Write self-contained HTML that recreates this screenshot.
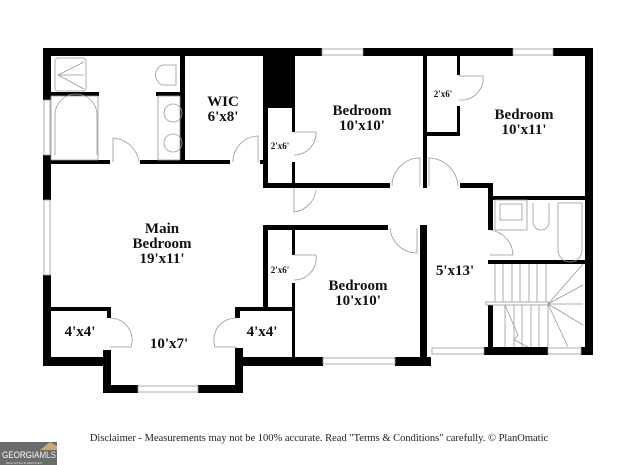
<!DOCTYPE html>
<html><head><meta charset="utf-8"><style>
html,body{margin:0;padding:0;background:#fff;width:640px;height:465px;overflow:hidden}
svg{display:block}
.t{font-family:"Liberation Serif",serif;font-weight:bold;fill:#111;text-anchor:middle}
</style></head><body>
<svg width="640" height="465" viewBox="0 0 640 465" xmlns="http://www.w3.org/2000/svg">
<g fill="#000">
<rect x="43" y="48" width="279" height="8"/>
<rect x="363" y="48" width="150" height="8"/>
<rect x="553" y="48" width="40" height="8"/>
<rect x="585" y="48" width="8" height="307"/>
<rect x="43" y="48" width="8" height="52"/>
<rect x="43" y="155" width="8" height="45"/>
<rect x="43" y="275" width="8" height="91"/>
<rect x="263" y="48" width="32" height="60"/>
<rect x="263" y="108" width="5" height="80"/>
<rect x="292" y="108" width="3" height="24"/>
<rect x="292" y="162" width="3" height="26"/>
<rect x="263" y="183" width="127" height="5"/>
<rect x="460" y="183" width="33" height="5"/>
<rect x="488" y="183" width="5" height="47"/>
<rect x="423" y="56" width="4" height="132"/>
<rect x="457" y="56" width="3" height="19"/>
<rect x="457" y="106" width="3" height="30"/>
<rect x="423" y="132" width="37" height="4"/>
<rect x="490" y="196" width="103" height="4"/>
<rect x="488" y="260" width="97" height="4"/>
<rect x="488" y="305" width="5" height="47"/>
<rect x="484" y="347" width="64" height="8"/>
<rect x="581" y="347" width="12" height="8"/>
<rect x="263" y="225" width="125" height="5"/>
<rect x="420" y="225" width="7" height="132"/>
<rect x="263" y="225" width="5" height="86"/>
<rect x="292" y="230" width="3" height="25"/>
<rect x="292" y="283" width="3" height="74"/>
<rect x="235" y="357" width="88" height="9"/>
<rect x="395" y="357" width="36" height="9"/>
<rect x="235" y="307" width="60" height="4"/>
<rect x="235" y="307" width="5" height="11"/>
<rect x="235" y="348" width="8" height="45"/>
<rect x="51" y="307" width="59" height="4"/>
<rect x="107" y="307" width="4" height="11"/>
<rect x="103" y="350" width="8" height="43"/>
<rect x="43" y="357" width="68" height="9"/>
<rect x="103" y="385" width="35" height="8"/>
<rect x="198" y="385" width="45" height="8"/>
<rect x="51" y="160" width="59" height="4"/>
<rect x="140" y="160" width="90" height="4"/>
<rect x="260" y="160" width="5" height="4"/>
<rect x="180" y="56" width="5" height="108"/>
<rect x="51" y="92" width="48" height="4"/>
<rect x="156" y="92" width="24" height="4"/>
</g>
<g fill="#fff" stroke="#999" stroke-width="0.8">
<rect x="322" y="49" width="41" height="6"/>
<rect x="513" y="49" width="40" height="6"/>
<rect x="44" y="100" width="6" height="55"/>
<rect x="44" y="200" width="6" height="75"/>
<rect x="138" y="386" width="60" height="6"/>
<rect x="323" y="358" width="72" height="6"/>
<rect x="432" y="348" width="52" height="6"/>
<rect x="548" y="348" width="33" height="6"/>
</g>
<g fill="none" stroke="#999" stroke-width="0.8">
<path d="M113 162 V138 A28 28 0 0 1 139 162"/>
<path d="M258 162 V136 A26 26 0 0 0 233 162"/>
<path d="M294 132 H316 A22 22 0 0 1 294 155"/>
<path d="M294 188 V212 A25 25 0 0 0 316 190"/>
<path d="M392 186 A28 28 0 0 1 420 158 V186"/>
<path d="M429 186 V158 A30 30 0 0 1 458 186"/>
<path d="M459 76 H483 A22 22 0 0 1 459 100"/>
<path d="M490 230 A26 26 0 0 1 513 255 H490"/>
<path d="M390 228 A27 27 0 0 0 417 253 V228"/>
<path d="M294 255 H316 A22 22 0 0 1 294 280"/>
<path d="M110 318 A22 22 0 0 1 131 347 H110"/>
<path d="M237 318 A22 22 0 0 0 215 347 H237"/>
<rect x="55" y="58" width="31" height="33" rx="3"/>
<path d="M58 75 L84 62 M58 75 L84 89 M58 75 H84"/>
<path d="M55 155 V115 A21 21 0 0 1 97 115 V155"/>
<rect x="51" y="96" width="47" height="64"/>
<path d="M162 65 A11 11 0 0 0 162 85 L176 85 V65 Z"/>
<rect x="158" y="96" width="22" height="64"/>
<circle cx="173" cy="113" r="9"/><circle cx="173" cy="143" r="9"/>
<rect x="495" y="200" width="32" height="30"/>
<rect x="500" y="204" width="22" height="16"/>
<path d="M533 203 V222 A8 8 0 0 0 549 222 V203"/>
<path d="M558 203 V250 A12 12 0 0 0 582 250 V203 Z"/>
<path d="M495 264 V302 M503 264 V302 M512 264 V302 M520 264 V302 M529 264 V302 M537 264 V302 M546 264 V302"/>
<rect x="486" y="302" width="62" height="3"/>
<path d="M505 305 V347 M514 305 V347 M522 305 V347 M531 305 V347 M539 305 V347"/>
<path d="M548 304 L583 264 M548 304 L583 285 M548 304 H583 M548 304 L583 325 M548 304 L568 347 M548 304 V347"/>
<path d="M505 305 L518 335 L514 340 L528 347"/>
</g>
<g class="t">
<text x="223" y="106" font-size="15">WIC</text>
<text x="223" y="121" font-size="15">6'x8'</text>
<text x="362" y="115" font-size="15">Bedroom</text>
<text x="362" y="130" font-size="15">10'x10'</text>
<text x="524" y="119" font-size="15">Bedroom</text>
<text x="524" y="134" font-size="15">10'x11'</text>
<text x="443" y="97" font-size="9">2'x6'</text>
<text x="280" y="149" font-size="9">2'x6'</text>
<text x="280" y="273" font-size="9">2'x6'</text>
<text x="162" y="233" font-size="15">Main</text>
<text x="162" y="248" font-size="15">Bedroom</text>
<text x="162" y="263" font-size="15">19'x11'</text>
<text x="358" y="290" font-size="15">Bedroom</text>
<text x="358" y="305" font-size="15">10'x10'</text>
<text x="455" y="275" font-size="15">5'x13'</text>
<text x="80" y="336" font-size="15">4'x4'</text>
<text x="262" y="336" font-size="15">4'x4'</text>
<text x="169" y="348" font-size="15">10'x7'</text>
</g>
<text x="319" y="441" font-family="Liberation Serif,serif" font-size="10.5" fill="#222" text-anchor="middle">Disclaimer - Measurements may not be 100% accurate. Read "Terms &amp; Conditions" carefully. © PlanOmatic</text>
<rect x="0" y="442" width="57" height="23" fill="#6b6b6b"/>
<path d="M40 450 L50 442 L57 446 V450 Z" fill="#c9a878"/>
<text x="2" y="458" font-family="Liberation Sans,sans-serif" font-size="9" textLength="54" lengthAdjust="spacingAndGlyphs" fill="#fff">GEORGIA<tspan fill="#eee">MLS</tspan></text>
<text x="6" y="464" font-family="Liberation Sans,sans-serif" font-size="3" fill="#ddd">REAL ESTATE SERVICES</text>
</svg>
</body></html>
